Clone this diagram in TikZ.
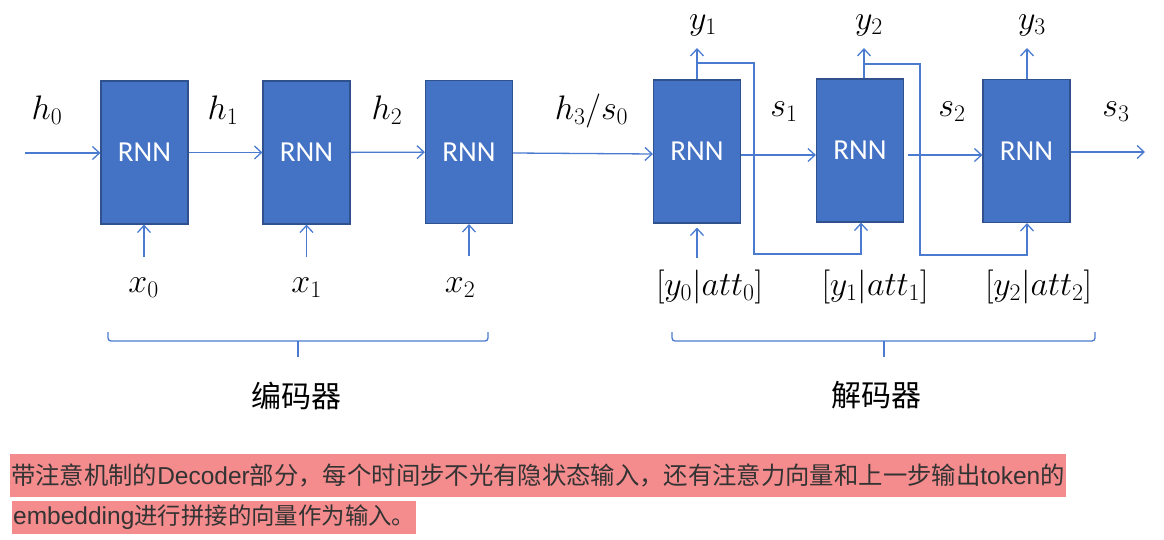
\RequirePackage{fix-cm}
\documentclass[tikz,border=0pt]{standalone}
\usepackage{fontspec}
\setsansfont{Carlito}
\newfontfamily\cjk{Noto Sans CJK SC}
\newfontfamily\lat{Liberation Sans}
\usetikzlibrary{arrows.meta}
\definecolor{boxfill}{HTML}{4472C4}
\definecolor{boxedge}{HTML}{2F528F}
\definecolor{wire}{HTML}{4A7BD0}
\definecolor{hl}{HTML}{F48C8E}
\definecolor{txt}{HTML}{333333}
\newcommand{\lt}[1]{{\lat\fontsize{24.5}{27}\selectfont #1}}
\begin{document}
\begin{tikzpicture}[x=1pt,y=-1pt,
  rnn/.style={draw=boxedge, line width=1.2pt, fill=boxfill, minimum width=87pt, minimum height=143pt, inner sep=0pt, text=white, font=\sffamily\fontsize{29}{31}\selectfont},
  wirearrow/.style={draw=wire, line width=1.3pt, -{Straight Barb[length=7pt,width=13pt]}},
  wireline/.style={draw=wire, line width=1.3pt},
  lab/.style={font=\fontsize{34}{36}\selectfont, inner sep=0pt},
  cnlab/.style={font=\cjk\fontsize{30}{32}\selectfont, inner sep=0pt},
  hlbox/.style={fill=hl, text=txt, inner xsep=1pt, inner ysep=0pt, anchor=west}]
\useasboundingbox (0,0) rectangle (1164,540);

% boxes
\node[rnn] (e1) at (144.5,152.5) {RNN};
\node[rnn] (e2) at (306.5,152.5) {RNN};
\node[rnn] (e3) at (469,152) {RNN};
\node[rnn] (d1) at (697,151.5) {RNN};
\node[rnn] (d2) at (860,150.5) {RNN};
\node[rnn] (d3) at (1026.5,151) {RNN};

% free ends
\coordinate (h0s) at (25,153);
\coordinate (s3e) at (1145,152);
\coordinate (x0s) at (144,257);
\coordinate (x1s) at (306.5,257);
\coordinate (x2s) at (469,256);
\coordinate (a0s) at (697,258);
\coordinate (y1e) at (697,48);
\coordinate (y2e) at (864,48);
\coordinate (y3e) at (1027,48);
\coordinate (f1) at (697,63);
\coordinate (f2) at (864,64);

% horizontal chain
\draw[wirearrow] (h0s) -- (e1.west |- h0s);
\draw[wirearrow] (e1) -- (e2);
\draw[wirearrow] (e2) -- (e3);
\draw[wirearrow] (e3.east |- 0,153) -- (d1.west |- 0,154);
\draw[wirearrow] (d1.east |- 0,155) -- (d2.west |- 0,155);
\draw[wirearrow] ([xshift=4pt]d2.east |- 0,155) -- (d3.west |- 0,155);
\draw[wirearrow] (d3.east |- s3e) -- (s3e);

% inputs
\draw[wirearrow] (x0s) -- (x0s |- e1.south);
\draw[wirearrow] (x1s) -- (x1s |- e2.south);
\draw[wirearrow] (x2s) -- (x2s |- e3.south);
\draw[wirearrow, shorten >=4pt] (a0s) -- (d1.south);

% outputs
\draw[wirearrow] (d1.north) -- (y1e);
\draw[wirearrow] (d2.north -| y2e) -- (y2e);
\draw[wirearrow] (d3.north -| y3e) -- (y3e);

% feedback
\draw[wirearrow] (f1) -- (754,63) -- (754,254) -| ([xshift=1pt]d2.south);
\draw[wirearrow] (f2) -- (920,64) -- (920,255) -| (d3.south -| y3e);

% labels
\node[lab] (lh0) at (47,110) {$h_0$};
\node[lab] (lh1) at (223,110) {$h_1$};
\node[lab] (lh2) at (387,110) {$h_2$};
\node[lab] (lh3) at (591.5,111) {$h_3/s_0$};
\node[lab] (ls1) at (784,112) {$s_1$};
\node[lab] (ls2) at (952,112) {$s_2$};
\node[lab] (ls3) at (1116,112) {$s_3$};
\node[lab] (ly1) at (703,25) {$y_1$};
\node[lab] (ly2) at (869,25) {$y_2$};
\node[lab] (ly3) at (1032,25) {$y_3$};
\node[lab] (lx0) at (143.5,288) {$x_0$};
\node[lab] (lx1) at (306.5,288) {$x_1$};
\node[lab] (lx2) at (460,288) {$x_2$};
\node[lab] (la0) at (709.5,287) {$[y_0|att_0]$};
\node[lab] (la1) at (875,287) {$[y_1|att_1]$};
\node[lab] (la2) at (1038.5,287) {$[y_2|att_2]$};

% brackets
\draw[wireline, rounded corners=3pt] (108,332) -- (108,341) -- (488,341) -- (488,332);
\draw[wireline] (298,341) -- (298,357);
\draw[wireline, rounded corners=3pt] (672,332) -- (672,341) -- (1095,341) -- (1095,332);
\draw[wireline] (884,341) -- (884,357);

\node[cnlab] (enc) at (296,396) {编码器};
\node[cnlab] (dec) at (876,395) {解码器};

% caption
\node[hlbox, font=\cjk\fontsize{24.35}{26}\selectfont, minimum height=43pt] (t1) at (10,475.5) {带注意机制的\lt{Decoder}部分，每个时间步不光有隐状态输入，还有注意力向量和上一步输出\lt{token}的};
\node[hlbox, font=\cjk\fontsize{23.4}{26}\selectfont, minimum height=33pt] (t2) at (12,517.5) {\lt{embedding}进行拼接的向量作为输入。};
\end{tikzpicture}
\end{document}
